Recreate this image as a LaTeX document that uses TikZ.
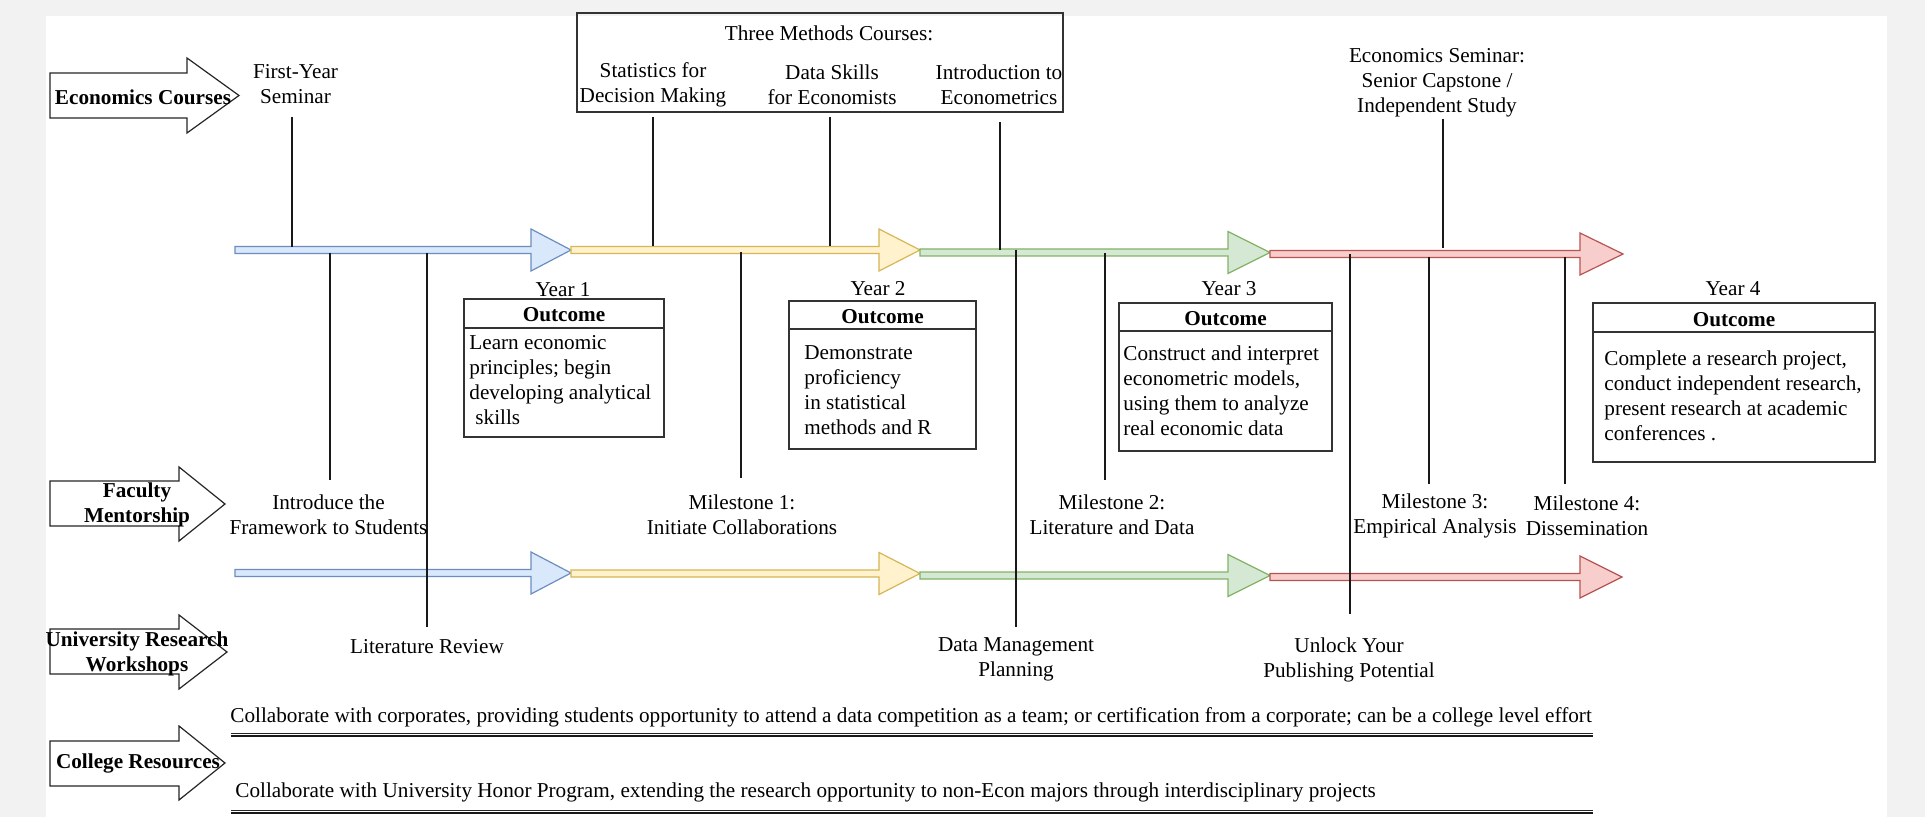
\documentclass[tikz,border=0pt]{standalone}
\usepackage{fontspec}
\setmainfont{Liberation Serif}
\definecolor{bggrey}{HTML}{F2F2F2}
\definecolor{bluef}{HTML}{DAE8FC}\definecolor{blued}{HTML}{6C8EBF}
\definecolor{yelf}{HTML}{FFF2CC}\definecolor{yeld}{HTML}{D6B656}
\definecolor{grnf}{HTML}{D5E8D4}\definecolor{grnd}{HTML}{82B366}
\definecolor{redf}{HTML}{F8CECC}\definecolor{redd}{HTML}{B85450}
\newcommand{\tlarrow}[5]{%
  \draw[#5] (#1,{#4-3.5}) -- (#2,{#4-3.5}) -- (#2,{#4-21}) -- (#3,#4) -- (#2,{#4+21}) -- (#2,{#4+3.5}) -- (#1,{#4+3.5}) -- cycle;}
\newcommand{\lblarrow}[7]{%
  \draw[barrow] (#1,#2) -- (#4,#2) -- (#4,#5) -- (#7,{(#5+#6)/2}) -- (#4,#6) -- (#4,#3) -- (#1,#3) -- cycle;}
\begin{document}
\begin{tikzpicture}[x=0.5pt,y=-0.5pt,
  every node/.style={font=\fontsize{10.6}{12.5}\selectfont, inner sep=0pt},
  lbl/.style={align=center},
  boldlbl/.style={font=\fontsize{10.6}{12.5}\selectfont\bfseries, align=center},
  body/.style={align=left, anchor=west},
  tick/.style={line width=1pt, black!90},
  obox/.style={draw=black!80, line width=0.8pt},
  barrow/.style={draw=black!85, line width=0.6pt, fill=white},
  tblue/.style={draw=blued, fill=bluef, line width=0.6pt},
  tyel/.style={draw=yeld, fill=yelf, line width=0.6pt},
  tgrn/.style={draw=grnd, fill=grnf, line width=0.6pt},
  tred/.style={draw=redd, fill=redf, line width=0.6pt},
  rulethin/.style={line width=0.5pt, black!85},
  rulethick/.style={line width=1.1pt, black!90}]
\useasboundingbox (0,0) rectangle (1925,817);
\fill[bggrey] (0,0) rectangle (1925,817);
\fill[white] (46,16) rectangle (1887,817);

% ---------- left category arrows ----------
\lblarrow{50}{73}{118}{187}{58}{133}{239}
\lblarrow{50}{481}{526}{179}{467}{541}{225}
\lblarrow{50}{629}{674}{179}{615}{689}{227}
\lblarrow{50}{741}{786}{179}{726}{800}{225}
\node[boldlbl] (econ) at (143,97) {Economics Courses};
\node[boldlbl] (fac) at (137,504.5) {Faculty\\Mentorship};
\node[boldlbl] (uni) at (137,653.5) {University Research\\Workshops};
\node[boldlbl] (col) at (138,763) {College Resources};

% ---------- three methods box ----------
\draw[obox, line width=0.6pt] (577,13) rectangle (1063,112);
\node (tmc) at (829,33) {Three Methods Courses:};

% ---------- course labels ----------
\node[lbl] (fys) at (295.5,84) {First-Year\\Seminar};
\node[lbl] (stat) at (653,84.5) {Statistics for\\Decision Making};
\node[lbl] (dsk) at (832,84.5) {Data Skills\\for Economists};
\node[lbl] (ecm) at (999,84.5) {Introduction to\\Econometrics};
\node[lbl] (sem) at (1437,83) {Economics Seminar:\\Senior Capstone /\\Independent Study};

% ---------- connector end points ----------
\coordinate (fysT) at (291.5,117);  \coordinate (fysB) at (291.5,247);
\coordinate (statT) at (653,117);   \coordinate (statB) at (653,246);
\coordinate (dskT) at (830,117);    \coordinate (dskB) at (830,246);
\coordinate (ecmT) at (1000,122);   \coordinate (ecmB) at (1000,250);
\coordinate (semT) at (1443,119);   \coordinate (semB) at (1443,248);
\coordinate (introT) at (330,253);  \coordinate (introB) at (330,480);
\coordinate (litT) at (427,253);    \coordinate (litB) at (427,627);
\coordinate (m1T) at (740.5,252);   \coordinate (m1B) at (740.5,478);
\coordinate (dmpT) at (1016,250);   \coordinate (dmpB) at (1016,627);
\coordinate (m2T) at (1105,253);    \coordinate (m2B) at (1105,480);
\coordinate (unlT) at (1350,254);   \coordinate (unlB) at (1350,614);
\coordinate (m3T) at (1429,257);    \coordinate (m3B) at (1429,484);
\coordinate (m4T) at (1565,257);    \coordinate (m4B) at (1565,484);

% ---------- timelines ----------
\tlarrow{235}{531}{571}{250}{tblue}
\tlarrow{571}{879}{920}{250}{tyel}
\tlarrow{920}{1228}{1270}{252.5}{tgrn}
\tlarrow{1270}{1580}{1623}{254}{tred}
\tlarrow{235}{531}{571}{573}{tblue}
\tlarrow{571}{879}{920}{573.5}{tyel}
\tlarrow{920}{1228}{1270}{575.5}{tgrn}
\tlarrow{1270}{1580}{1622}{577}{tred}

% ---------- vertical connectors ----------
\draw[tick] (fysT) -- (fysB);
\draw[tick] (statT) -- (statB);
\draw[tick] (dskT) -- (dskB);
\draw[tick] (ecmT) -- (ecmB);
\draw[tick] (semT) -- (semB);
\draw[tick] (introT) -- (introB);
\draw[tick] (litT) -- (litB);
\draw[tick] (m1T) -- (m1B);
\draw[tick] (dmpT) -- (dmpB);
\draw[tick] (m2T) -- (m2B);
\draw[tick] (unlT) -- (unlB);
\draw[tick] (m3T) -- (m3B);
\draw[tick] (m4T) -- (m4B);

% ---------- outcome boxes ----------
\node (y1) at (563,290) {Year 1};
\draw[obox] (464,299) rectangle (664,437);
\draw[obox] (464,328) -- (664,328);
\node[boldlbl] (o1) at (564,315) {Outcome};
\node[body] (b1) at (469,380.5) {Learn economic\\principles; begin\\developing analytical\\\hspace*{3pt}skills};

\node (y2) at (878,289) {Year 2};
\draw[obox] (789,301) rectangle (976,449);
\draw[obox] (789,329) -- (976,329);
\node[boldlbl] (o2) at (882.5,316.5) {Outcome};
\node[body] (b2) at (804,390.5) {Demonstrate\\proficiency\\in statistical\\methods and R};

\node (y3) at (1229,289) {Year 3};
\draw[obox] (1119,303) rectangle (1332,451);
\draw[obox] (1119,331) -- (1332,331);
\node[boldlbl] (o3) at (1225.5,319) {Outcome};
\node[body] (b3) at (1123,390.5) {Construct and interpret\\econometric models,\\using them to analyze\\real economic data};

\node (y4) at (1733,289) {Year 4};
\draw[obox] (1593,303) rectangle (1875,462);
\draw[obox] (1593,332) -- (1875,332);
\node[boldlbl] (o4) at (1734,319.5) {Outcome};
\node[body] (b4) at (1604,396) {Complete a research project,\\conduct independent research,\\present research at academic\\conferences .};

% ---------- mentorship labels ----------
\node[lbl] (intro) at (328.5,514.5) {Introduce the\\Framework to Students};
\node[lbl] (m1) at (742,514.5) {Milestone 1:\\Initiate Collaborations};
\node[lbl] (m2) at (1112,514.5) {Milestone 2:\\Literature and Data};
\node[lbl] (m3) at (1435,515.5) {Milestone 3:\\Empirical Analysis};
\node[lbl] (m4) at (1587,515.5) {Milestone 4:\\Dissemination};

% ---------- workshop labels ----------
\node (lit) at (427,647) {Literature Review};
\node[lbl] (dmp) at (1016,659.5) {Data Management\\Planning};
\node[lbl] (unl) at (1349,659.5) {Unlock Your\\Publishing Potential};

% ---------- college resources ----------
\node[anchor=west] (c1) at (230,717) {Collaborate with corporates, providing students opportunity to attend a data competition as a team; or certification from a corporate; can be a college level effort};
\coordinate (r1a) at (231,733); \coordinate (r1b) at (1593,733);
\coordinate (r1c) at (231,736); \coordinate (r1d) at (1593,736);
\draw[rulethin] (r1a) -- (r1b);
\draw[rulethick] (r1c) -- (r1d);
\node[anchor=west] (c2) at (235,792) {Collaborate with University Honor Program, extending the research opportunity to non-Econ majors through interdisciplinary projects};
\coordinate (r2a) at (231,810); \coordinate (r2b) at (1593,810);
\coordinate (r2c) at (231,813); \coordinate (r2d) at (1593,813);
\draw[rulethin] (r2a) -- (r2b);
\draw[rulethick] (r2c) -- (r2d);
\end{tikzpicture}
\end{document}
